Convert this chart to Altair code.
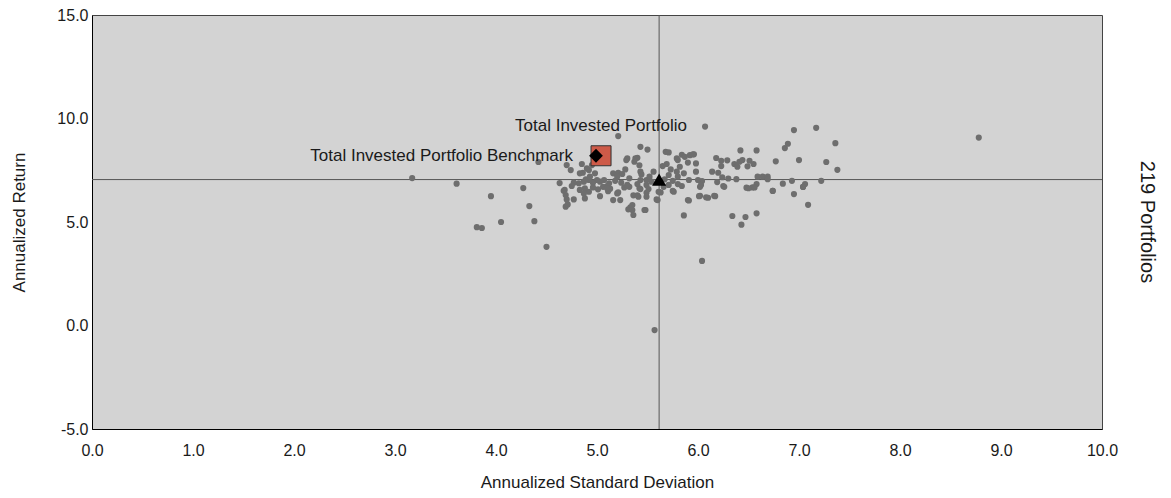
import altair as alt
import pandas as pd

# ---- data ----
sd_values = [
    3.17, 3.61, 3.95, 3.81, 3.86, 4.05, 4.27, 4.33, 4.38, 4.50, 4.42, 4.63, 5.57, 6.04, 8.78,
    6.07, 6.95, 7.17, 7.36, 6.86, 6.89, 7.27, 7.38, 7.00, 6.77, 6.58, 6.42, 6.18, 6.23, 6.29,
    6.23, 6.14, 6.20, 6.36, 6.39, 6.41, 6.44, 6.51, 6.55, 6.49, 6.24, 6.30, 6.38, 6.19, 6.25,
    6.04, 6.02, 6.02, 6.08, 6.16, 6.48, 6.54, 6.58, 6.59, 6.64, 6.69, 6.69, 6.74, 6.84, 6.93,
    6.95, 7.04, 7.06, 7.22, 7.09, 6.34, 6.47, 6.43, 6.58, 6.26, 6.10,
    5.21, 5.43, 5.50, 5.68, 5.71, 5.40, 5.29, 5.37, 5.42, 4.85, 4.95, 4.92, 4.86, 4.98, 5.16,
    5.21, 5.25, 5.28, 5.43, 5.44, 5.56, 5.65, 5.69, 5.73, 5.80, 5.84, 5.87, 5.92, 5.96, 5.90,
    5.98, 5.82, 5.79, 5.86, 5.98, 5.80, 5.75, 5.91, 6.00, 6.03, 5.76, 5.90, 6.01, 5.86, 5.61,
    5.59, 5.49, 5.49, 5.48, 5.42, 5.36, 5.40, 5.33, 5.35, 5.36, 5.32, 5.32, 5.24, 5.20, 5.18,
    5.12, 5.10, 5.13, 5.07, 5.03, 5.00, 4.96, 4.92, 4.89, 4.87, 4.82, 4.77, 4.75, 4.68, 4.69,
    4.70, 4.69, 4.77, 4.88, 4.92, 4.88, 5.01, 5.03, 5.06, 5.11, 5.16, 5.23, 5.20, 5.27, 5.43,
    5.40, 5.49, 5.54, 5.52, 5.71, 5.67, 5.71, 5.66, 5.80, 5.84, 5.30, 4.96, 4.83, 4.87,
    4.71, 4.67, 5.31, 5.35, 5.47, 5.60, 5.49, 5.41, 5.43, 5.51, 5.75, 5.91, 6.17, 5.63, 5.21,
    5.10, 5.30, 5.38, 5.79, 5.95, 4.70, 4.74, 4.83, 4.90, 4.93, 6.50, 6.56, 6.74, 7.04,
]
ret_values = [
    7.12, 6.85, 6.25, 4.75, 4.71, 5.00, 6.64, 5.77, 5.04, 3.80, 7.90, 6.88, -0.22, 3.12, 9.08,
    9.61, 9.44, 9.55, 8.81, 8.57, 8.78, 7.90, 7.52, 7.99, 7.93, 8.46, 8.46, 8.09, 7.96, 7.98,
    7.70, 7.43, 7.38, 7.80, 7.67, 7.91, 7.99, 7.96, 7.80, 7.69, 7.16, 7.10, 7.07, 6.93, 6.74,
    6.98, 6.70, 6.27, 6.19, 6.27, 6.66, 6.67, 6.83, 7.19, 7.19, 7.19, 7.07, 6.51, 6.85, 6.99,
    6.35, 6.69, 6.83, 6.99, 5.83, 5.29, 5.24, 4.87, 5.42, 6.70, 6.17,
    9.15, 8.63, 8.50, 8.39, 8.36, 8.10, 7.99, 7.91, 7.74, 7.80, 7.75, 7.51, 7.38, 7.35, 7.35,
    7.38, 7.32, 7.54, 7.43, 7.30, 7.43, 7.70, 7.80, 7.54, 7.99, 8.25, 8.15, 8.23, 8.27, 7.87,
    7.83, 7.67, 7.43, 7.35, 7.43, 7.19, 6.99, 7.03, 7.03, 6.79, 6.46, 6.06, 6.25, 5.32, 6.46,
    6.09, 6.79, 6.41, 5.58, 6.63, 6.29, 6.29, 5.71, 5.58, 5.34, 6.70, 7.11, 6.90, 7.19, 6.99,
    6.87, 6.74, 6.61, 7.03, 6.95, 7.03, 6.90, 7.03, 7.06, 6.95, 6.87, 6.90, 6.74, 6.55, 6.30,
    6.09, 5.74, 6.09, 6.14, 6.46, 6.63, 6.58, 6.25, 6.70, 6.49, 6.06, 6.06, 6.38, 6.67, 7.03,
    6.83, 7.03, 6.95, 7.19, 7.27, 7.06, 6.79, 6.70, 6.83, 6.74, 6.79, 6.67, 6.55, 6.38,
    5.85, 6.51, 5.61, 5.82, 5.58, 6.06, 6.22, 6.22, 6.59, 6.59, 6.50, 6.04, 6.25, 6.43, 6.43,
    6.63, 8.07, 8.07, 8.07, 8.27, 7.75, 7.51, 7.35, 7.59, 7.19, 6.63, 6.67, 6.50, 6.70,
]

portfolio_label = ["Total Invested Portfolio"]
portfolio_sd = [5.04]
portfolio_ret = [8.20]

benchmark_label = ["Total Invested Portfolio Benchmark"]
benchmark_sd = [4.99]
benchmark_ret = [8.20]

median_sd = [5.615]
median_ret = [7.05]

count_label = ["219 Portfolios"]

x_ticks = [0, 1, 2, 3, 4, 5, 6, 7, 8, 9, 10]
y_ticks = [-5, 0, 5, 10, 15]

FONT = "Liberation Sans, Arial, sans-serif"
LABEL_EXPR = "datum.value < 0 ? '-' + format(-datum.value, '.1f') : format(datum.value, '.1f')"

xs = alt.Scale(domain=[0, 10], nice=False, zero=False)
ys = alt.Scale(domain=[-5, 15], nice=False, zero=False)

x_axis = alt.Axis(values=x_ticks, labelExpr=LABEL_EXPR, title="Annualized Standard Deviation",
                  labelPadding=13, labelFlush=False, titleY=58, titleBaseline="alphabetic")
y_axis = alt.Axis(values=y_ticks, labelExpr=LABEL_EXPR, title="Annualized Return",
                  labelPadding=4, labelFlush=False, titleX=-73, titleY=207, titleAngle=270,
                  titleBaseline="middle", titleAlign="center")


def X():
    return alt.X("sd:Q", scale=xs, axis=x_axis)


def Y():
    return alt.Y("ret:Q", scale=ys, axis=y_axis)


pts = pd.DataFrame({"sd": sd_values, "ret": ret_values})
port = pd.DataFrame({"sd": portfolio_sd, "ret": portfolio_ret, "label": portfolio_label})
bench = pd.DataFrame({"sd": benchmark_sd, "ret": benchmark_ret, "label": benchmark_label})
med = pd.DataFrame({"sd": median_sd, "ret": median_ret})
cnt = pd.DataFrame({"label": count_label})

vrule = alt.Chart(med).mark_rule(color="#555555", strokeWidth=1).encode(x=X())
hrule = alt.Chart(med).mark_rule(color="#555555", strokeWidth=1).encode(y=Y())

scatter = alt.Chart(pts).mark_circle(size=38, color="#6e6e6e", opacity=1).encode(x=X(), y=Y())

square = alt.Chart(port).mark_point(shape="square", filled=True, size=400, fill="#cd5a48",
                                    stroke="#333333", strokeWidth=1, opacity=1).encode(x=X(), y=Y())
diamond = alt.Chart(bench).mark_point(shape="diamond", filled=True, size=190, color="black",
                                      opacity=1).encode(x=X(), y=Y())
triangle = alt.Chart(med).mark_point(shape="triangle-up", filled=True, size=200, color="black",
                                     opacity=1).encode(x=X(), y=Y())

port_text = alt.Chart(port).mark_text(align="center", baseline="middle", dy=-30, font=FONT,
                                      fontSize=17, color="#1a1a1a").encode(x=X(), y=Y(), text="label:N")
bench_text = alt.Chart(bench).mark_text(align="right", baseline="middle", dx=-23, font=FONT,
                                        fontSize=17, color="#1a1a1a").encode(x=X(), y=Y(), text="label:N")
count_text = alt.Chart(cnt).mark_text(align="center", baseline="middle", angle=90, font=FONT,
                                      fontSize=20, color="#1a1a1a").encode(
    x=alt.value(1055), y=alt.value(207), text="label:N")

chart = alt.layer(vrule, hrule, scatter, square, diamond, triangle, port_text, bench_text, count_text).properties(
    width=1010, height=414,
    autosize=alt.AutoSizeParams(type="none"),
    padding={"left": 84, "top": 7, "right": 61, "bottom": 61},
    background="white",
).configure_view(
    fill="#d3d3d3", stroke="#444444", strokeWidth=1
).configure_axis(
    grid=False, ticks=False, domainColor="#000000", domainWidth=1,
    labelFont=FONT, labelFontSize=16, labelColor="#1a1a1a",
    titleFont=FONT, titleFontSize=17, titleFontWeight="normal", titleColor="#1a1a1a",
)

chart.save("out.html", embed_options={"renderer": "svg", "actions": False})
